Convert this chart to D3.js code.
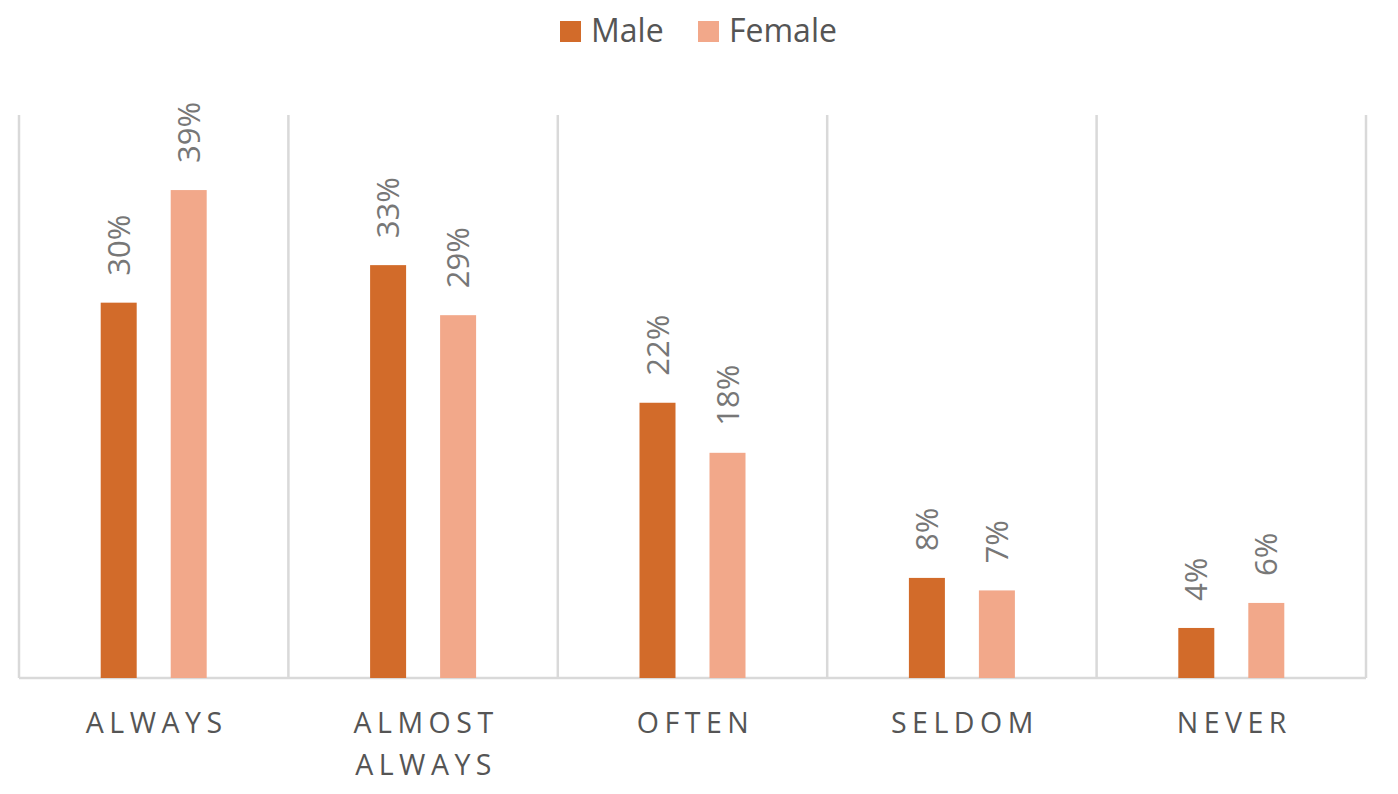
<!DOCTYPE html>
<html><head><meta charset="utf-8">
<script src="https://cdn.jsdelivr.net/npm/d3@7"></script>
<style>html,body{margin:0;padding:0;background:#fff;} svg{display:block;}</style>
</head><body>
<svg id="chart" width="1398" height="794"></svg>
<script>
const categories = ["ALWAYS", "ALMOST ALWAYS", "OFTEN", "SELDOM", "NEVER"];
const categoryLines = [["ALWAYS"], ["ALMOST", "ALWAYS"], ["OFTEN"], ["SELDOM"], ["NEVER"]];
const seriesNames = ["Male", "Female"];
const maleValues = [30, 33, 22, 8, 4];
const femaleValues = [39, 29, 18, 7, 6];
const colors = ["#D26B2A", "#F2A88A"];

const svg = d3.select("#chart");
const font = "'Open Sans', 'Noto Sans', sans-serif";
const plotLeft = 19, plotRight = 1366, plotTop = 115, plotBottom = 678;

const x0 = d3.scaleBand().domain(categories).range([plotLeft, plotRight]).padding(0);
const bw = x0.bandwidth();
const x1 = d3.scaleBand().domain(seriesNames)
  .range([bw / 2 - 53, bw / 2 + 53]).paddingInner(34 / 70).paddingOuter(0);
const y = d3.scaleLinear().domain([0, 45]).range([plotBottom, plotTop]);
const color = d3.scaleOrdinal().domain(seriesNames).range(colors);

// vertical gridlines at category boundaries
const bounds = categories.map(c => x0(c)).concat([plotRight]);
svg.append("g").selectAll("line").data(bounds).join("line")
  .attr("x1", d => d).attr("x2", d => d)
  .attr("y1", y(45)).attr("y2", y(0))
  .attr("stroke", "#d9d9d9").attr("stroke-width", 2.5);

// baseline
svg.append("line").attr("x1", plotLeft).attr("x2", plotRight)
  .attr("y1", y(0)).attr("y2", y(0))
  .attr("stroke", "#d9d9d9").attr("stroke-width", 2.5);

const data = categories.map((c, i) => ({
  cat: c,
  vals: [{s: "Male", v: maleValues[i]}, {s: "Female", v: femaleValues[i]}]
}));

const groups = svg.append("g").selectAll("g").data(data).join("g")
  .attr("transform", d => `translate(${x0(d.cat)},0)`);

groups.selectAll("rect").data(d => d.vals).join("rect")
  .attr("x", d => x1(d.s))
  .attr("y", d => y(d.v))
  .attr("width", x1.bandwidth())
  .attr("height", d => y(0) - y(d.v))
  .attr("fill", d => color(d.s));

groups.selectAll("text.lbl").data(d => d.vals).join("text")
  .attr("class", "lbl")
  .attr("transform", d => `translate(${x1(d.s) + x1.bandwidth() / 2 + 11},${y(d.v) - 27}) rotate(-90)`)
  .attr("text-anchor", "start")
  .attr("font-family", font)
  .attr("font-size", 31)
  .attr("fill", "#777777")
  .text(d => d.v + "%");

// category labels
const catG = svg.append("g");
categories.forEach((c, i) => {
  const cx = x0(c) + bw / 2 + 3;
  const t = catG.append("text")
    .attr("x", cx)
    .attr("y", 733)
    .attr("text-anchor", "middle")
    .attr("font-family", font)
    .attr("font-size", 28.5)
    .attr("letter-spacing", 5.5)
    .attr("fill", "#555555");
  categoryLines[i].forEach((line, j) => {
    t.append("tspan").attr("x", cx).attr("dy", j === 0 ? 0 : 42).text(line);
  });
});

// legend
const legend = svg.append("g");
const legendPos = [{s: "Male", x: 560, tx: 591}, {s: "Female", x: 698, tx: 729}];
legendPos.forEach(p => {
  legend.append("rect").attr("x", p.x).attr("y", 21).attr("width", 21).attr("height", 21)
    .attr("fill", color(p.s));
  legend.append("text").attr("x", p.tx).attr("y", 42)
    .attr("font-family", font).attr("font-size", 32).attr("fill", "#555555")
    .text(p.s);
});
</script>
</body></html>
